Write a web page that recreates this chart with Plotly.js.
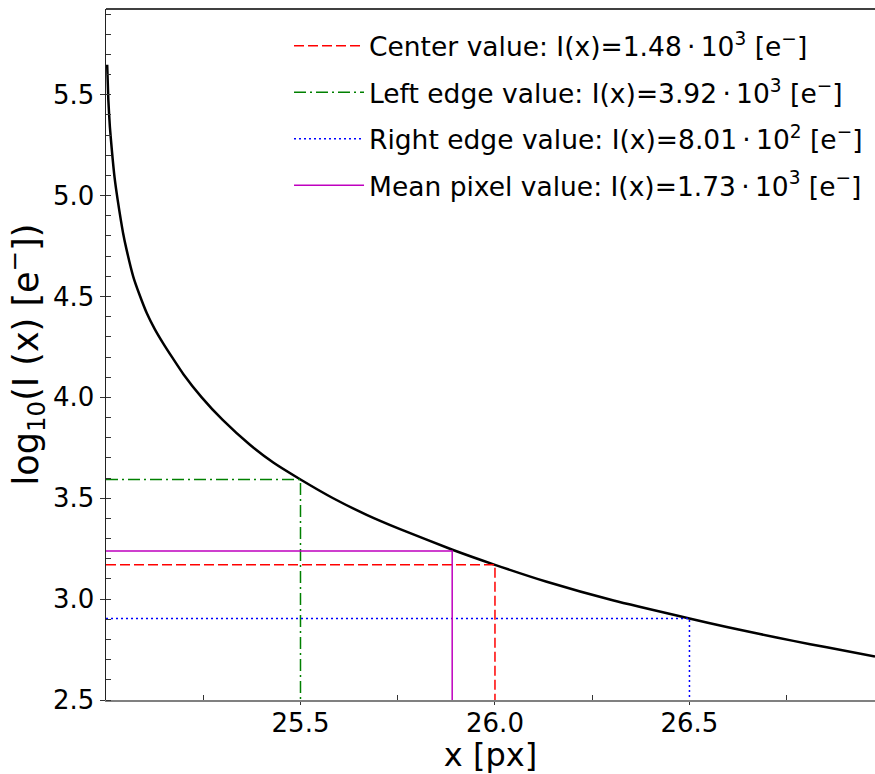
<!DOCTYPE html>
<html>
<head>
<meta charset="utf-8">
<script src="https://cdn.plot.ly/plotly-3.0.1.min.js"></script>
<style>
  html, body { margin: 0; padding: 0; background: #ffffff; }
  #plot { width: 875px; height: 774px; }
</style>
</head>
<body>
<div id="plot"></div>
<script>
// Intensity profile across the pixel, shown as log10 of electrons
const xPx = [25.003, 25.006, 25.010, 25.015, 25.022, 25.030, 25.044, 25.053, 25.070, 25.086,
             25.105, 25.125, 25.147, 25.172, 25.199, 25.246, 25.300, 25.370, 25.430, 25.500,
             25.584, 25.670, 25.756, 25.889, 26.000, 26.133, 26.305, 26.500, 26.596, 26.681,
             26.767, 26.853, 26.977];
const logI = [5.649, 5.475, 5.340, 5.227, 5.090, 4.979, 4.814, 4.731, 4.599, 4.510,
              4.417, 4.340, 4.268, 4.193, 4.115, 4.000, 3.888, 3.765, 3.677, 3.593,
              3.500, 3.418, 3.347, 3.246, 3.170, 3.086, 2.993, 2.904, 2.862, 2.827,
              2.793, 2.761, 2.715];

// Axis limits
const xMin = 25.0, xMax = 26.977;
const yMin = 2.5, yMax = 5.925;

// Reference values read along the profile
const refNames = ['Center value', 'Left edge value', 'Right edge value', 'Mean pixel value'];
const refX = [26.0, 25.5, 26.5, 25.89];
const refI = [1480, 3920, 801, 1730];
const refColors = ['#ff0000', '#008000', '#0000ff', '#bf00bf'];
const refDash = ['10px,4px', '12px,4px,2px,4px', '2px,3px', 'solid'];

const xTicks = [25.5, 26.0, 26.5];

function sciLabel(v) {
  const e = Math.floor(Math.log10(v));
  const m = (v / Math.pow(10, e)).toFixed(2);
  return 'I(x)=' + m + '\u2009\u00b7\u200910<sup>' + e + '</sup> [e<sup>\u2212</sup>]';
}

const traces = [{
  x: xPx, y: logI, type: 'scatter', mode: 'lines',
  line: { color: '#000000', width: 2.5, shape: 'spline', smoothing: 0.5 },
  showlegend: false, hoverinfo: 'skip'
}];

refNames.forEach((name, i) => {
  const ly = Math.log10(refI[i]);
  traces.push({
    x: [xMin, refX[i], refX[i]],
    y: [ly, ly, yMin],
    type: 'scatter', mode: 'lines',
    name: name + ': ' + sciLabel(refI[i]),
    legendgroup: 'g' + i,
    line: { color: refColors[i], width: 1.5, dash: refDash[i] },
    hoverinfo: 'skip'
  });
});

const font = 'DejaVu Sans, Liberation Sans, sans-serif';

const layout = {
  width: 875, height: 774,
  margin: { l: 106, r: 0, t: 9, b: 74, pad: 0 },
  paper_bgcolor: '#ffffff', plot_bgcolor: '#ffffff',
  font: { family: font, color: '#000000', size: 26 },
  showlegend: true,
  legend: {
    x: 0.238, y: 0.981, xanchor: 'left', yanchor: 'top',
    bgcolor: 'rgba(0,0,0,0)', borderwidth: 0,
    font: { family: font, size: 26.5, color: '#000000' },
    traceorder: 'grouped', tracegroupgap: 9, itemwidth: 70
  },
  xaxis: {
    range: [xMin, xMax], showgrid: false, zeroline: false,
    showline: true, linecolor: '#808080', linewidth: 1.5,
    tickmode: 'array', tickvals: xTicks, ticktext: xTicks.map(v => v.toFixed(1)),
    ticks: 'outside', ticklen: 3, tickcolor: '#333333', tickwidth: 1,
    ticklabelstandoff: -4,
    tickfont: { family: font, size: 26, color: '#000000' },
    minor: { tickmode: 'linear', tick0: 25.25, dtick: 0.5, ticks: 'inside', ticklen: 5, tickcolor: '#333333', tickwidth: 1 },
    title: { text: 'x [px]', font: { family: font, size: 32, color: '#000000' }, standoff: 6 },
    automargin: false
  },
  yaxis: {
    range: [yMin, yMax], showgrid: false, zeroline: false,
    showline: true, linecolor: '#222222', linewidth: 1.5,
    tickmode: 'linear', tick0: 2.5, dtick: 0.5, tickformat: '.1f',
    ticks: 'outside', ticklen: 5, tickcolor: '#333333', tickwidth: 1,
    tickfont: { family: font, size: 26, color: '#000000' },
    minor: { tickmode: 'linear', tick0: 2.5, dtick: 0.1, ticks: 'inside', ticklen: 5, tickcolor: '#333333', tickwidth: 1 },
    title: { text: 'log<sub>10</sub>(I (x) [e<sup>\u2212</sup>])', font: { family: font, size: 35, color: '#000000' }, standoff: 8 },
    automargin: false
  },
  shapes: [{
    type: 'line', xref: 'paper', yref: 'paper', x0: 0, x1: 1, y0: 1, y1: 1,
    line: { color: '#000000', width: 1.5 }
  }]
};

Plotly.newPlot('plot', traces, layout, { displayModeBar: false, staticPlot: true });
</script>
</body>
</html>
